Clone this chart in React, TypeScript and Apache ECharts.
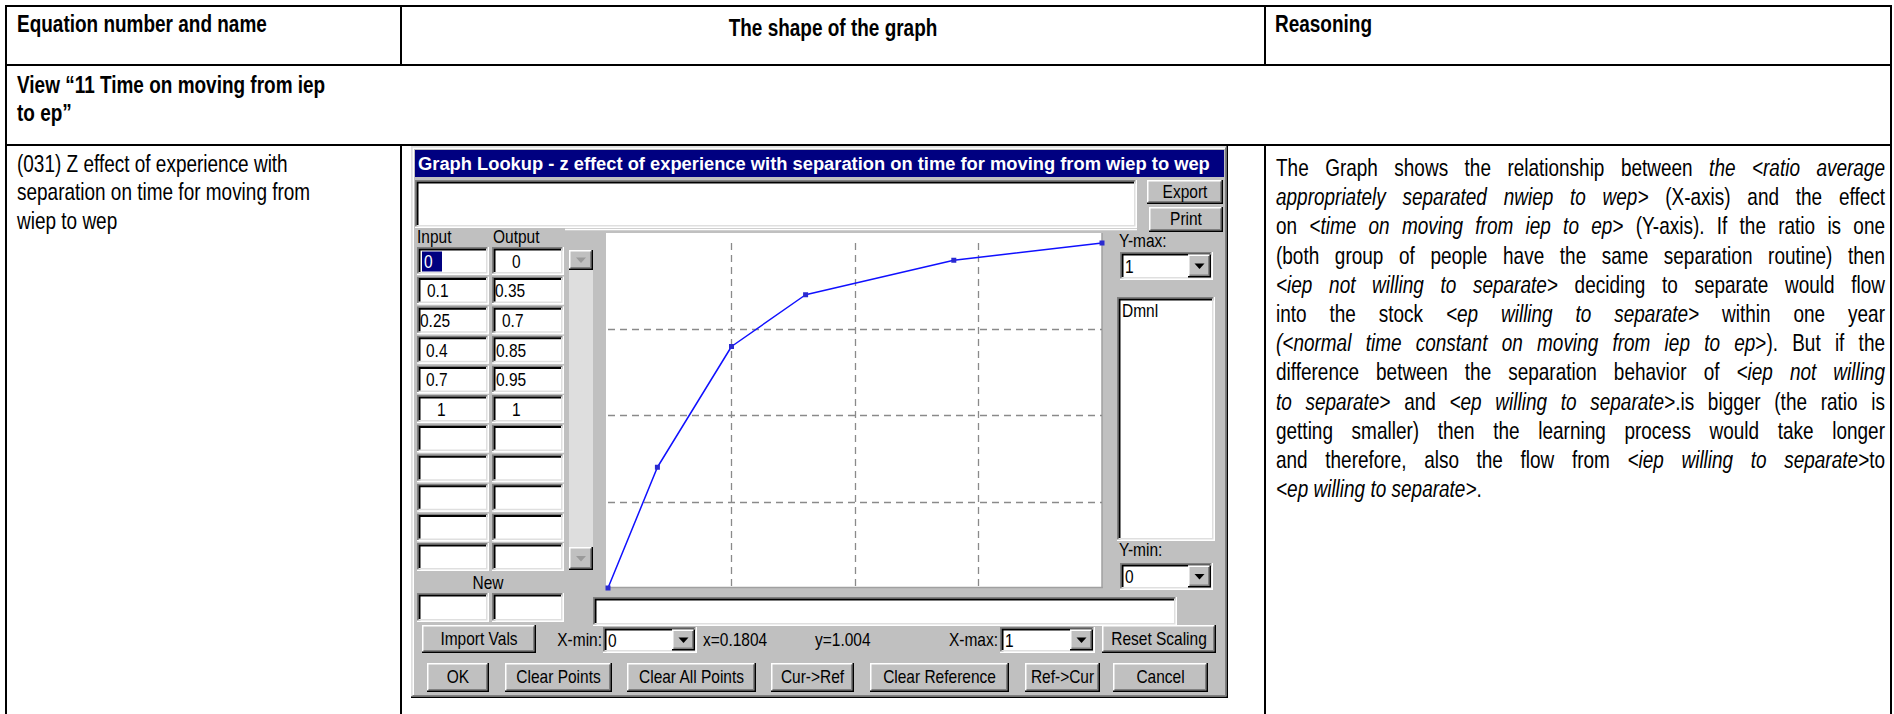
import React, { useEffect, useRef } from 'react';
import * as echarts from 'echarts';

// ---------------- data ----------------
const inputValues = [0, 0.1, 0.25, 0.4, 0.7, 1];
const outputValues = [0, 0.35, 0.7, 0.85, 0.95, 1];
const emptyRowCount = 5;
const axisInterval = 0.25;
const xMin = 0;
const xMax = 1;
const yMin = 0;
const yMax = 1;
const cursorX = 0.1804;
const cursorY = 1.004;
const units = 'Dmnl';

const headerTexts = ['Equation number and name', 'The shape of the graph', 'Reasoning'];
const viewTitle = ['View “11 Time on moving from iep', 'to ep”'];
const equationName = ['(031) Z effect of experience with', 'separation on time for moving from', 'wiep to wep'];
const dialogTitle = 'Graph Lookup - z effect of experience with separation on time for moving from wiep to wep';
const bottomButtons = ['OK', 'Clear Points', 'Clear All Points', 'Cur->Ref', 'Clear Reference', 'Ref->Cur', 'Cancel'];
// '*' toggles italic
const reasoningLines = [
  'The Graph shows the relationship between *the <ratio average*',
  '*appropriately separated nwiep to wep>* (X-axis) and the effect',
  'on *<time on moving from iep to ep>* (Y-axis). If the ratio is one',
  '(both group of people have the same separation routine) then',
  '*<iep not willing to separate>* deciding to separate would flow',
  'into the stock *<ep willing to separate>* within one year',
  '*(<normal time constant on moving from iep to ep*>). But if the',
  'difference between the separation behavior of *<iep not willing*',
  '*to separate>* and *<ep willing to separate>*.is bigger (the ratio is',
  'getting smaller) then the learning process would take longer',
  'and therefore, also the flow from *<iep willing to separate>*to',
  '*<ep willing to separate>*.',
];

// ---------------- layout / style ----------------
const FONT = '"Liberation Sans Narrow", "Arial Narrow", "Liberation Sans", Arial, sans-serif';
const DOC_SIZE = 24;
const UI_SIZE = 18;
const LH = 28.3;
const RLH = 29.2;
const bottomButtonBoxes = [
  [427, 62], [505, 107], [627, 129], [771, 83], [870, 139], [1025, 75], [1113, 95],
];
const inPad = [15, 10, 3, 9, 9, 20];
const outPad = [20, 3, 10, 4, 4, 20];

let ctx: CanvasRenderingContext2D | null = null;
function measure(text: string, size: number, weight = 'normal', style = 'normal') {
  if (!ctx) ctx = document.createElement('canvas').getContext('2d');
  ctx!.font = `${style} ${weight} ${size}px ${FONT}`;
  return ctx!.measureText(text).width;
}

function buildOption() {
  const g: any[] = [];
  const Z = -1;
  const rect = (x: number, y: number, w: number, h: number, fill: string) =>
    g.push({ type: 'rect', z: Z, silent: true, shape: { x, y, width: w, height: h }, style: { fill } });
  const pl = (points: number[][], stroke: string, lw = 1.5) =>
    g.push({ type: 'polyline', z: Z, silent: true, shape: { points }, style: { stroke, lineWidth: lw, fill: null } });
  const ln = (x1: number, y1: number, x2: number, y2: number, stroke: string, lw: number) =>
    g.push({ type: 'line', z: Z, silent: true, shape: { x1, y1, x2, y2 }, style: { stroke, lineWidth: lw } });
  const txt = (text: string, x: number, y: number, o: any = {}) =>
    g.push({
      type: 'text', z: Z, silent: true, x, y, scaleX: o.k ?? 1,
      style: {
        text, fontFamily: FONT, fontSize: o.size ?? UI_SIZE, fontWeight: o.weight ?? 'normal',
        fontStyle: o.style ?? 'normal', fill: o.color ?? '#000',
        textAlign: o.align ?? 'left', align: o.align ?? 'left',
        textVerticalAlign: 'middle', verticalAlign: 'middle',
      },
    });
  const raised = (x: number, y: number, w: number, h: number) => {
    rect(x, y, w, h, '#c0c0c0');
    pl([[x + 0.75, y + h - 1], [x + 0.75, y + 0.75], [x + w - 1, y + 0.75]], '#ffffff');
    pl([[x + 1.5, y + h - 2.25], [x + w - 2.25, y + h - 2.25], [x + w - 2.25, y + 1.5]], '#808080');
    pl([[x, y + h - 0.75], [x + w - 0.75, y + h - 0.75], [x + w - 0.75, y]], '#000000');
  };
  const sunken = (x: number, y: number, w: number, h: number, fill = '#ffffff') => {
    rect(x, y, w, h, fill);
    pl([[x + 0.75, y + h], [x + 0.75, y + 0.75], [x + w, y + 0.75]], '#808080');
    pl([[x + 2.5, y + h - 1.5], [x + 2.5, y + 2.5], [x + w - 1.5, y + 2.5]], '#000000', 2);
    pl([[x, y + h - 0.75], [x + w - 0.75, y + h - 0.75], [x + w - 0.75, y]], '#ffffff');
    pl([[x + 1.5, y + h - 2.25], [x + w - 2.25, y + h - 2.25], [x + w - 2.25, y + 1.5]], '#dfdfdf');
  };
  const kDoc = 250 / measure(headerTexts[0], DOC_SIZE, 'bold');
  const kUi = 106 / measure('Clear All Points', UI_SIZE);
  const ui = (text: string, x: number, y: number, o: any = {}) => txt(text, x, y, { k: kUi, ...o });
  const button = (x: number, y: number, w: number, h: number, label: string) => {
    raised(x, y, w, h);
    ui(label, x + w / 2, y + h / 2, { align: 'center' });
  };
  const tri = (cx: number, cy: number, color: string) =>
    g.push({ type: 'polygon', z: Z, silent: true, shape: { points: [[cx - 5, cy - 2.5], [cx + 5, cy - 2.5], [cx, cy + 3]] }, style: { fill: color } });
  const combo = (x: number, y: number, w: number, h: number, value: string) => {
    sunken(x, y, w, h);
    ui(value, x + 5, y + h / 2 + 1);
    raised(x + w - 25, y + 2.5, 23, h - 5);
    tri(x + w - 13.5, y + h / 2, '#000');
  };

  // ---------- document table ----------
  const T = { left: 6, right: 1891, top: 6, hdr: 65, row2: 145, c1: 401, c2: 1265, bottom: 716 };
  ln(T.left - 1, T.top, T.right + 1, T.top, '#000', 2);
  ln(T.left - 1, T.hdr, T.right + 1, T.hdr, '#000', 2);
  ln(T.left - 1, T.row2, T.right + 1, T.row2, '#000', 2);
  ln(T.left, T.top, T.left, T.bottom, '#000', 2);
  ln(T.right, T.top, T.right, T.bottom, '#000', 2);
  ln(T.c1, T.top, T.c1, T.hdr, '#000', 2);
  ln(T.c2, T.top, T.c2, T.hdr, '#000', 2);
  ln(T.c1, T.row2, T.c1, T.bottom, '#000', 2);
  ln(T.c2, T.row2, T.c2, T.bottom, '#000', 2);

  const mid = (base: number) => base - 0.35 * DOC_SIZE;
  const doc = (text: string, x: number, base: number, o: any = {}) =>
    txt(text, x, mid(base), { size: DOC_SIZE, k: kDoc, color: '#000', ...o });
  doc(headerTexts[0], 17, 32, { weight: 'bold' });
  doc(headerTexts[1], (T.c1 + T.c2) / 2, 36, { weight: 'bold', align: 'center' });
  doc(headerTexts[2], 1275, 32, { weight: 'bold' });
  viewTitle.forEach((t, i) => doc(t, 17, 93 + i * LH, { weight: 'bold' }));
  equationName.forEach((t, i) => doc(t, 17, 172 + i * LH));

  // justified reasoning text
  const RL = 1276;
  const RW = 1885 - RL;
  const R_BASE = 176;
  reasoningLines.forEach((line, li) => {
    let italic = false;
    const words: { text: string; italic: boolean; w: number }[][] = [];
    for (const w of line.split(' ')) {
      const runs: { text: string; italic: boolean; w: number }[] = [];
      let cur = '';
      for (const ch of w) {
        if (ch === '*') {
          if (cur) runs.push({ text: cur, italic, w: 0 });
          cur = '';
          italic = !italic;
        } else cur += ch;
      }
      if (cur) runs.push({ text: cur, italic, w: 0 });
      runs.forEach((r) => (r.w = measure(r.text, DOC_SIZE, 'normal', r.italic ? 'italic' : 'normal') * kDoc));
      if (runs.length) words.push(runs);
    }
    const widths = words.map((ws) => ws.reduce((s, r) => s + r.w, 0));
    const total = widths.reduce((s, v) => s + v, 0);
    const last = li === reasoningLines.length - 1;
    const gap = last ? measure(' ', DOC_SIZE) * kDoc : (RW - total) / (words.length - 1);
    let x = RL;
    const base = R_BASE + li * RLH;
    words.forEach((ws, wi) => {
      let xx = x;
      ws.forEach((r) => {
        doc(r.text, xx, base, { style: r.italic ? 'italic' : 'normal' });
        xx += r.w;
      });
      x += widths[wi] + gap;
    });
  });

  // ---------- dialog ----------
  const D = { x: 411, y: 146, w: 817, h: 552 };
  rect(D.x, D.y, D.w, D.h, '#c0c0c0');
  pl([[D.x + 0.75, D.y + D.h], [D.x + 0.75, D.y + 0.75], [D.x + D.w, D.y + 0.75]], '#dfdfdf');
  pl([[D.x + 2.25, D.y + D.h - 2], [D.x + 2.25, D.y + 2.25], [D.x + D.w - 2, D.y + 2.25]], '#ffffff');
  pl([[D.x, D.y + D.h - 0.75], [D.x + D.w - 0.75, D.y + D.h - 0.75], [D.x + D.w - 0.75, D.y]], '#000000');
  pl([[D.x + 1.5, D.y + D.h - 2.25], [D.x + D.w - 2.25, D.y + D.h - 2.25], [D.x + D.w - 2.25, D.y + 1.5]], '#808080');
  rect(415, 150, 809, 27, '#000080');
  const kTitle = 792 / measure(dialogTitle, UI_SIZE, 'bold');
  txt(dialogTitle, 418, 164, { k: kTitle, weight: 'bold', color: '#ffffff' });

  sunken(415, 180, 722, 48);
  ln(565, 229.5, 1137, 229.5, '#ffffff', 1.5);
  button(1147, 180, 76, 24, 'Export');
  button(1149, 207, 74, 25, 'Print');

  ui('Input', 417, 237);
  ui('Output', 493, 237);
  const rowTop = (i: number) => 247 + i * 29.6;
  const totalRows = inputValues.length + emptyRowCount;
  for (let i = 0; i < totalRows; i++) {
    const y = rowTop(i);
    sunken(417, y, 72, 28);
    sunken(492, y, 72, 28);
    if (i < inputValues.length) {
      const inLabel = String(inputValues[i]);
      const outLabel = String(outputValues[i]);
      if (i === 0) {
        rect(422, y + 4.5, 20, 20, '#000080');
        ui(inLabel, 424 + inPad[i] - 15, y + 15, { color: '#ffffff' });
      } else {
        ui(inLabel, 417 + inPad[i], y + 15);
      }
      ui(outLabel, 492 + outPad[i], y + 15);
    }
  }
  // scrollbar
  rect(569, 250, 24, 320, '#dedede');
  raised(569, 250, 24, 20);
  tri(581, 260, '#9a9a9a');
  raised(569, 547, 24, 23);
  tri(581, 558.5, '#9a9a9a');

  ui('New', 488, 583, { align: 'center' });
  sunken(417, 593, 72, 29);
  sunken(492, 593, 72, 29);

  // plot background
  rect(606, 233, 496, 355, '#ffffff');
  ln(1102, 233, 1102, 588, '#a0a0a0', 1.5);
  ln(606, 587.5, 1103, 587.5, '#a0a0a0', 1.5);

  ui('Y-max:', 1119, 241);
  combo(1120, 252, 93, 28, String(yMax));
  sunken(1117, 297, 98, 244);
  ui(units, 1122, 311);
  ui('Y-min:', 1119, 550);
  combo(1120, 563, 93, 27, String(yMin));

  sunken(593, 597, 584, 29);

  button(422, 625, 114, 28, 'Import Vals');
  ui('X-min:', 602, 640, { align: 'right' });
  combo(603, 627, 94, 26, String(xMin));
  ui(`x=${cursorX}`, 703, 640);
  ui(`y=${cursorY}`, 815, 640);
  ui('X-max:', 998, 640, { align: 'right' });
  combo(1000, 627, 95, 26, String(xMax));
  button(1102, 625, 114, 28, 'Reset Scaling');

  bottomButtons.forEach((label, i) => {
    const [bx, bw] = bottomButtonBoxes[i];
    button(bx, 663, bw, 29, label);
  });

  const axisCommon = {
    type: 'value',
    interval: axisInterval,
    axisLine: { show: false },
    axisTick: { show: false },
    axisLabel: { show: false },
    splitLine: {
      show: true,
      showMinLine: false,
      showMaxLine: false,
      lineStyle: { color: '#8a8a8a', width: 1.3, type: [7, 5] },
    },
  };

  return {
    animation: false,
    backgroundColor: '#ffffff',
    grid: { left: 608, top: 243, width: 494, height: 345, show: false },
    xAxis: { ...axisCommon, min: xMin, max: xMax },
    yAxis: { ...axisCommon, min: yMin, max: yMax },
    graphic: { elements: g },
    series: [
      {
        type: 'line',
        clip: false,
        data: inputValues.map((x, i) => [x, outputValues[i]]),
        lineStyle: { color: '#1010ff', width: 1.5 },
        symbol: 'rect',
        symbolSize: 5,
        itemStyle: { color: '#2a2ad0' },
        z: 5,
      },
    ],
  };
}

export default function App() {
  const ref = useRef<HTMLDivElement>(null);
  useEffect(() => {
    if (!ref.current) return;
    const chart = echarts.init(ref.current, undefined, { renderer: 'svg' });
    chart.setOption(buildOption() as any);
    return () => chart.dispose();
  }, []);
  return (
    <div
      ref={ref}
      style={{ position: 'fixed', left: 0, top: 0, width: 1894, height: 714, background: '#ffffff' }}
    />
  );
}
